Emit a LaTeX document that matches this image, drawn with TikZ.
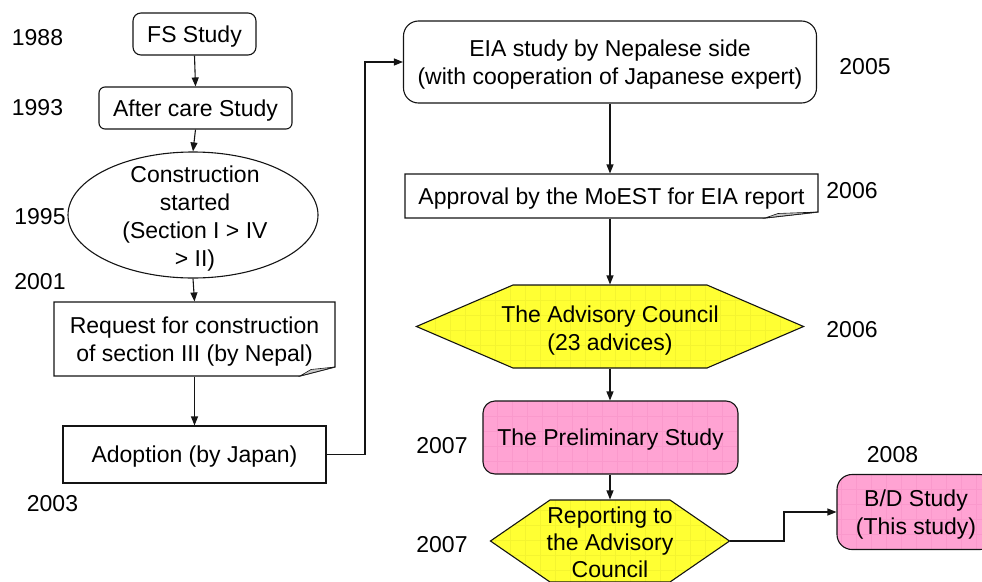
\documentclass[tikz,border=0pt]{standalone}
\usepackage{fontspec}
\setmainfont{Liberation Sans}
\usetikzlibrary{shapes.geometric,arrows.meta}
\definecolor{yel}{HTML}{FFFF33}
\definecolor{yelgrid}{HTML}{F4F430}
\definecolor{pnk}{HTML}{FFA3D3}
\definecolor{pnkgrid}{HTML}{FA99CC}
\definecolor{foldgray}{HTML}{C8C8C8}
\definecolor{ln}{HTML}{141414}
\begin{document}
\begin{tikzpicture}[x=1pt,y=-1pt,
  font=\fontsize{23}{28}\selectfont,
  line width=1.1pt,
  arr/.style={-{Triangle[length=9pt,width=7pt]}, line width=1.1pt, draw=ln},
  outl/.style={draw=ln, line width=1.1pt},
  box/.style={draw=ln, line width=1.1pt, inner sep=0pt, align=center, text depth=0pt},
  txt/.style={inner sep=0pt, align=center, text depth=0pt},
  yr/.style={inner sep=0pt, anchor=center},
  ygrid/.style={path picture={\draw[yelgrid,line width=0.5pt] (path picture bounding box.south west) grid[step=15pt] (path picture bounding box.north east);}},
  pgrid/.style={path picture={\draw[pnkgrid,line width=0.5pt] (path picture bounding box.south west) grid[step=15pt] (path picture bounding box.north east);}},
]
\useasboundingbox (0,0) rectangle (982,581);

% ---------- left column ----------
\node[box, rounded corners=8pt, minimum width=123pt, minimum height=42pt] (fs) at (194.5,34) {FS Study};
\node[box, rounded corners=6pt, minimum width=193pt, minimum height=42pt] (ac) at (195.5,108) {After care Study};
\node[draw=ln, line width=1.1pt, ellipse, inner sep=0pt, minimum width=250pt, minimum height=126pt] (cs) at (193,215) {};
\node[txt] (cstext) at (195,216) {Construction\\started\\(Section I > IV\\> II)};

\node[txt, minimum width=281pt, minimum height=74pt] (req) at (194.5,339) {Request for construction\\of section III (by Nepal)};
\draw[outl] (54,302) -- (335,302) -- (335,367) -- (300,376) -- (54,376) -- cycle;
\filldraw[outl, fill=foldgray, line width=0.6pt] (300,376) -- (335,367) -- (311,369.5) -- cycle;

\node[box, minimum width=263pt, minimum height=57pt] (adopt) at (194.5,454.5) {Adoption (by Japan)};

% ---------- right column ----------
\node[box, rounded corners=15pt, minimum width=413pt, minimum height=82pt] (eia) at (610,62) {EIA study by Nepalese side\\(with cooperation of Japanese expert)};

\node[txt, minimum width=413pt, minimum height=44pt] (appr) at (611.5,196) {Approval by the MoEST for EIA report};
\draw[outl] (405,174) -- (818,174) -- (818,212) -- (765,218) -- (405,218) -- cycle;
\filldraw[outl, fill=foldgray, line width=0.6pt] (765,218) -- (818,212) -- (778,213.5) -- cycle;

\node[txt, minimum width=386pt, minimum height=83pt] (adv) at (610,326.5) {};
\filldraw[outl, fill=yel, ygrid] (adv.west) -- (513,285) -- (707,285) -- (adv.east) -- (707,368) -- (513,368) -- cycle;
\node[txt] (advtext) at (610,328) {The Advisory Council\\(23 advices)};

\node[box, fill=pnk, pgrid, rounded corners=12pt, minimum width=255pt, minimum height=73pt] (pre) at (610.5,437.5) {The Preliminary Study};

\node[txt, minimum width=238pt, minimum height=82pt] (rep) at (610,541) {};
\filldraw[outl, fill=yel, ygrid] (rep.west) -- (550,500) -- (670,500) -- (rep.east) -- (670,582) -- (550,582) -- cycle;
\node[txt, font=\fontsize{23}{27}\selectfont] (reptext) at (610,542) {Reporting to\\the Advisory\\Council};

\node[box, fill=pnk, pgrid, rounded corners=15pt, minimum width=158pt, minimum height=75pt] (bd) at (916,512) {B/D Study\\(This study)};

% ---------- connectors ----------
\draw[arr] (fs.south) -- (ac.north);
\draw[arr] (ac.south) -- (cs.north);
\draw[arr] (cs.south) -- (req.north);
\draw[arr] (req.south) -- (adopt.north);
\coordinate (j1) at (365,454.5);
\draw[arr] (adopt.east) -- (j1) |- (eia.west);
\draw[arr] (eia.south) -- (eia.south |- appr.north);
\draw[arr] (adv.north |- appr.south) -- (adv.north);
\draw[arr] (adv.south) -- (adv.south |- pre.north);
\draw[arr] (rep.north |- pre.south) -- (rep.north);
\coordinate (j2) at (784,541);
\draw[arr] (rep.east) -- (j2) |- (bd.west);

% ---------- years ----------
\node[yr] (y1988) at (37.5,37.5) {1988};
\node[yr] (y1993) at (37.5,107.5) {1993};
\node[yr] (y1995) at (40,216.5) {1995};
\node[yr] (y2001) at (40,281.5) {2001};
\node[yr] (y2003) at (52.5,503.5) {2003};
\node[yr] (y2005) at (865,66.5) {2005};
\node[yr] (y2006a) at (852,191) {2006};
\node[yr] (y2006b) at (852,330) {2006};
\node[yr] (y2007a) at (442,446) {2007};
\node[yr] (y2007b) at (442,545) {2007};
\node[yr] (y2008) at (892.5,454.5) {2008};
\end{tikzpicture}
\end{document}
